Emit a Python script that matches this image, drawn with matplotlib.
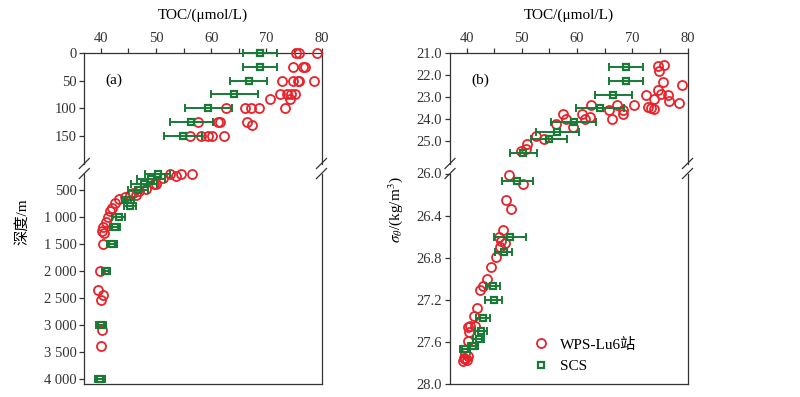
import matplotlib; matplotlib.use("Agg")
import matplotlib.pyplot as plt, numpy as np
from matplotlib.lines import Line2D

plt.rcParams.update({"font.family": ["Liberation Serif", "Noto Sans CJK SC"], "mathtext.fontset": "stix",
                     "axes.edgecolor": "#333333", "axes.linewidth": 0.9,
                     "xtick.color": "#333333", "ytick.color": "#333333"})
RED = "#e8232b"; GRN = "#187a36"

# panel (a): depth profiles, upper 0-200 m
wps_dep_up = [0, 0, 0, 25, 25, 25, 50, 50, 50, 50, 50, 75, 75, 75, 75, 84, 84,
              100, 100, 100, 100, 100, 125, 125, 125, 125, 130, 150, 150, 150, 150, 150]
wps_toc_up = [75.3, 75.9, 79.1, 74.8, 76.7, 77.0, 72.9, 74.8, 75.7, 76.0, 78.6, 72.4, 73.8, 74.4, 75.2, 70.6, 74.3,
              62.6, 66.2, 67.3, 68.7, 73.3, 57.6, 61.3, 61.6, 66.5, 67.4, 56.1, 58.1, 59.5, 60.1, 62.3]
scs_dep_up = [0, 25, 50, 75, 100, 125, 150]
scs_toc_up = [68.9, 68.9, 66.8, 64.2, 59.5, 56.4, 54.9]
scs_err_up = [3.1, 3.1, 3.4, 4.3, 4.3, 3.9, 3.4]
# panel (a): deep part
wps_dep_dn = [200, 200, 200, 250, 280, 400, 400, 490, 530, 560, 590, 605, 630, 680, 750, 840, 900, 1000,
              1100, 1190, 1260, 1300, 1500, 2000, 2350, 2450, 2550, 3100, 3400]
wps_toc_dn = [56.6, 54.5, 52.5, 53.6, 51.3, 50.0, 49.6, 48.2, 47.0, 45.8, 45.2, 46.4, 44.4, 43.3, 42.6, 42.1, 41.6, 41.3,
              40.9, 40.3, 40.2, 40.5, 40.3, 39.8, 39.4, 40.3, 40.0, 40.2, 40.0]
scs_dep_dn = [200, 300, 400, 500, 700, 800, 1000, 1200, 1500, 2000, 3000, 4000]
scs_toc_dn = [50.3, 49.1, 47.8, 46.8, 44.9, 45.3, 43.2, 42.6, 42.0, 40.9, 40.0, 39.8]
scs_err_dn = [2.3, 2.6, 2.4, 1.8, 1.15, 1.15, 1.1, 0.9, 0.85, 0.7, 0.9, 0.9]

# panel (b): potential density
wps_sig_up = [21.56, 21.6, 21.81, 22.31, 22.43, 22.66, 22.88, 22.88, 22.84, 23.06, 23.26, 23.19, 23.44, 23.48, 23.52,
              23.37, 23.37, 23.59, 23.59, 23.74, 24.0, 23.37, 23.9, 23.74, 23.97, 23.74, 24.0, 24.35, 24.2,
              24.77, 24.87, 25.13, 25.33, 25.43]
wps_toc_b_up = [75.8, 74.6, 74.9, 75.6, 79.0, 74.6, 72.4, 76.4, 75.2, 74.0, 78.4, 76.7, 72.8, 73.4, 74.0,
                70.4, 67.2, 68.4, 65.7, 68.3, 66.3, 62.6, 62.3, 60.9, 61.4, 57.4, 58.0, 59.2, 56.2,
                52.5, 54.0, 50.9, 50.7, 49.9]
scs_sig_up = [21.63, 22.28, 22.91, 23.47, 24.12, 24.57, 24.9, 25.51]
scs_toc_b_up = [68.9, 68.9, 66.6, 64.2, 59.4, 56.4, 54.9, 50.3]
scs_err_b_up = [3.1, 3.1, 3.4, 4.35, 4.1, 3.9, 3.2, 2.5]
wps_sig_dn = [26.01, 26.1, 26.25, 26.34, 26.54, 26.6, 26.64, 26.66, 26.7, 26.79, 26.89, 27.0, 27.07, 27.11,
              27.28, 27.35, 27.45, 27.46, 27.45, 27.51, 27.59, 27.71, 27.75, 27.77, 27.78, 27.73, 27.76]
wps_toc_b_dn = [47.6, 50.2, 47.1, 48.0, 46.6, 45.9, 46.3, 46.9, 46.1, 45.3, 44.5, 43.7, 42.9, 42.4,
                41.9, 41.3, 40.7, 40.3, 41.5, 40.5, 40.3, 39.7, 39.5, 40.0, 39.4, 40.3, 39.7]
scs_sig_dn = [26.07, 26.60, 26.75, 27.07, 27.20, 27.37, 27.50, 27.57, 27.64, 27.67]
scs_toc_b_dn = [49.2, 47.8, 46.7, 44.8, 44.9, 43.0, 42.6, 42.2, 41.1, 39.8]
scs_err_b_dn = [2.85, 2.9, 1.6, 1.3, 1.6, 1.3, 1.1, 1.0, 0.9, 0.9]

W, H = 800, 397
fig = plt.figure(figsize=(W/100, H/100), dpi=100)

def px_axes(x0, x1, y0, y1):
    return fig.add_axes([x0/W, 1-y1/H, (x1-x0)/W, (y1-y0)/H])

def draw(ax, tx, ty, sx, sy, se):
    ax.plot(tx, ty, "o", ms=6.5, mfc="none", mec=RED, mew=1.3, label="WPS-Lu6站", zorder=3, clip_on=False)
    eb = ax.errorbar(sx, sy, xerr=se, fmt="none", ecolor=GRN, elinewidth=1.4, capsize=2.8, capthick=1.4, zorder=4)
    for art in eb.lines:
        for a in (art if isinstance(art, tuple) else [art]):
            if a is not None: a.set_clip_on(False)
    ax.plot(sx, sy, "s", ms=4.6, mfc="none", mec=GRN, mew=1.6, label="SCS", zorder=5, clip_on=False)
    ax.set_xlim(37, 80)

def style_top(ax):
    ax.spines["bottom"].set_visible(False)
    ax.xaxis.tick_top()
    ax.set_xticks([40, 50, 60, 70, 80]); ax.set_xticks([45, 55, 65, 75], minor=True)
    ax.tick_params(axis="x", which="both", direction="out", length=3.5, width=0.9, labelsize=10.5, pad=2)
    ax.tick_params(axis="y", direction="out", length=3.5, width=0.9, labelsize=10.5, pad=2)
    ax.tick_params(axis="y", which="minor", left=False)

def style_bot(ax):
    ax.spines["top"].set_visible(False)
    ax.set_xticks([])
    ax.tick_params(axis="y", direction="out", length=3.5, width=0.9, labelsize=10.5, pad=2)

def breaks(x0, x1, yb, yt):
    for x in (x0, x1):
        for y in (yb, yt):
            fig.add_artist(Line2D([(x-5)/W, (x+5)/W], [1-(y+5)/H, 1-(y-5)/H], color="#333333", lw=0.9))

XA0, XA1, XB0, XB1 = 84.3, 321.5, 450.0, 687.5
YT0, YT1, YB0, YB1 = 53.0, 163.5, 173.5, 384.0

a_up = px_axes(XA0, XA1, YT0, YT1); a_dn = px_axes(XA0, XA1, YB0, YB1)
b_up = px_axes(XB0, XB1, YT0, YT1); b_dn = px_axes(XB0, XB1, YB0, YB1)

draw(a_up, wps_toc_up, wps_dep_up, scs_toc_up, scs_dep_up, scs_err_up)
draw(a_dn, wps_toc_dn, wps_dep_dn, scs_toc_dn, scs_dep_dn, scs_err_dn)
draw(b_up, wps_toc_b_up, wps_sig_up, scs_toc_b_up, scs_sig_up, scs_err_b_up)
draw(b_dn, wps_toc_b_dn, wps_sig_dn, scs_toc_b_dn, scs_sig_dn, scs_err_b_dn)

a_up.set_ylim(200, 0); a_up.set_yticks([0, 50, 100, 150])
a_dn.set_ylim(4100, 200)
dt = [500, 1000, 1500, 2000, 2500, 3000, 3500, 4000]
a_dn.set_yticks(dt); a_dn.set_yticklabels([f"{v:,}".replace(",", " ") for v in dt])
b_up.set_ylim(26, 21); b_up.set_yticks([21, 22, 23, 24, 25])
b_up.set_yticklabels([f"{v:.1f}" for v in [21, 22, 23, 24, 25]])
b_dn.set_ylim(28, 26); st = [26.0, 26.4, 26.8, 27.2, 27.6, 28.0]
b_dn.set_yticks(st); b_dn.set_yticklabels([f"{v:.1f}" for v in st])

for ax in (a_up, b_up): style_top(ax)
for ax in (a_dn, b_dn): style_bot(ax)

breaks(XA0, XA1, YT1, YB0); breaks(XB0, XB1, YT1, YB0)

a_up.text(0.09, 0.72, "(a)", transform=a_up.transAxes, fontsize=11)
b_up.text(0.09, 0.72, "(b)", transform=b_up.transAxes, fontsize=11)

fig.text((XA0+XA1)/2/W, 1-15/H, "TOC/(μmol/L)", ha="center", va="center", fontsize=11)
fig.text((XB0+XB1)/2/W, 1-15/H, "TOC/(μmol/L)", ha="center", va="center", fontsize=11)
fig.text(22/W, 1-222/H, "深度/m", rotation=90, ha="center", va="center", fontsize=11)
fig.text(396/W, 1-210/H, r"$\sigma_\theta$/(kg/m$^3$)", rotation=90, ha="center", va="center", fontsize=11)

b_dn.legend(loc="upper left", bbox_to_anchor=(526/W, 1-330/H), bbox_transform=fig.transFigure,
            frameon=False, fontsize=11, handlelength=1.0, handletextpad=0.7, labelspacing=0.5, borderpad=0)

fig.savefig("out.png", dpi=100)
